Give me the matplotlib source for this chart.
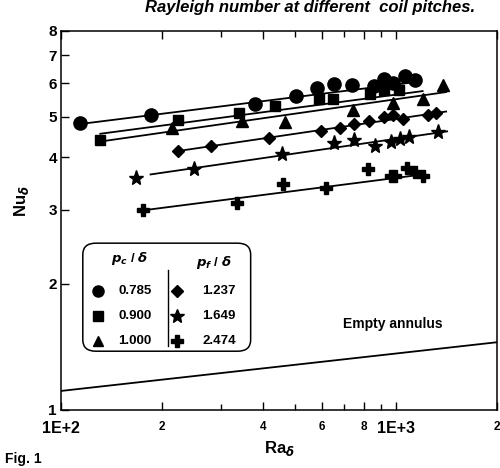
import numpy as np
import matplotlib
matplotlib.use("Agg")
import matplotlib.pyplot as plt
from matplotlib.patches import FancyBboxPatch

plt.rcParams["font.family"] = ["Liberation Sans", "DejaVu Sans"]
plt.rcParams["font.weight"] = "bold"

# data (Ra_delta, Nu_delta)
circle_x = [114, 185, 380, 503, 582, 651, 740, 859, 917, 982, 1062, 1137]
circle_y = [4.83, 5.04, 5.35, 5.59, 5.84, 5.97, 5.94, 5.91, 6.13, 6.01, 6.23, 6.12]

square_x = [131, 224, 340, 435, 588, 646, 833, 921, 1019]
square_y = [4.40, 4.92, 5.09, 5.29, 5.51, 5.50, 5.66, 5.77, 5.77]

tri_x = [215, 346, 465, 742, 976, 1202, 1377]
tri_y = [4.70, 4.88, 4.86, 5.19, 5.40, 5.51, 5.94]

diamond_x = [224, 281, 417, 595, 680, 751, 830, 918, 982, 1050, 1243, 1319]
diamond_y = [4.14, 4.25, 4.44, 4.63, 4.69, 4.81, 4.89, 4.99, 5.03, 4.94, 5.03, 5.10]

star_x = [167, 250, 455, 653, 751, 867, 964, 1024, 1094, 1337]
star_y = [3.56, 3.75, 4.08, 4.33, 4.39, 4.25, 4.36, 4.42, 4.48, 4.60]

plus_x = [176, 336, 460, 616, 823, 964, 990, 1077, 1139, 1203]
plus_y = [2.99, 3.11, 3.45, 3.37, 3.76, 3.61, 3.61, 3.77, 3.68, 3.60]

# correlation lines (end points)
fit_circle = ([114, 1160], [4.80, 6.05])
fit_square = ([131, 1200], [4.55, 5.75])
fit_tri = ([131, 1410], [4.36, 5.72])
fit_diamond = ([224, 1410], [4.14, 5.14])
fit_star = ([185, 1420], [3.64, 4.61])
fit_plus = ([176, 1140], [2.99, 3.62])
empty_x = [100, 2000]
empty_y = [1.11, 1.45]

pc_labels = ["0.785", "0.900", "1.000"]
pf_labels = ["1.237", "1.649", "2.474"]

fig = plt.figure(figsize=(5.0, 4.68), dpi=100)
ax = fig.add_axes([0.122, 0.124, 0.872, 0.81])
ax.set_xscale("log")
ax.set_yscale("log")
ax.set_xlim(100, 2000)
ax.set_ylim(1, 8)

for fx, fy in [fit_circle, fit_square, fit_tri, fit_diamond, fit_star, fit_plus]:
    ax.plot(fx, fy, color="black", lw=1.3)
ax.plot(empty_x, empty_y, color="black", lw=1.3)

ax.plot(circle_x, circle_y, "o", color="black", ms=9.5)
ax.plot(square_x, square_y, "s", color="black", ms=7.5)
ax.plot(tri_x, tri_y, "^", color="black", ms=8)
ax.plot(diamond_x, diamond_y, "D", color="black", ms=6.5)
ax.plot(star_x, star_y, "*", color="black", ms=11)
ax.plot(plus_x, plus_y, "P", color="black", ms=9)

# axes / ticks
for sp in ["left", "bottom", "top", "right"]:
    ax.spines[sp].set_linewidth(1.1)
ax.set_yticks([1, 2, 3, 4, 5, 6, 7, 8])
ax.set_yticklabels(["1", "2", "3", "4", "5", "6", "7", "8"], fontsize=11, fontweight="bold")
ax.yaxis.set_minor_locator(matplotlib.ticker.NullLocator())
xt = [100, 200, 400, 600, 800, 1000, 2000]
xl = ["1E+2", "2", "4", "6", "8", "1E+3", "2"]
ax.set_xticks(xt)
ax.set_xticklabels(xl, fontweight="bold")
for lab, s in zip(ax.get_xticklabels(), [11.5, 8.5, 8.5, 8.5, 8.5, 11.5, 8.5]):
    lab.set_fontsize(s)
ax.xaxis.set_minor_locator(matplotlib.ticker.FixedLocator([300, 500, 700, 900]))
ax.xaxis.set_minor_formatter(matplotlib.ticker.NullFormatter())
ax.tick_params(which="both", direction="in", top=True, right=False, width=1.0)
ax.tick_params(which="major", length=6)
ax.tick_params(which="minor", length=4)
ax.tick_params(axis="y", pad=3)
ax.tick_params(axis="x", pad=8)

ax.set_xlabel(r"Ra$_{\delta}$", fontsize=12, fontweight="bold", labelpad=2)
ax.set_ylabel(r"Nu$_{\delta}$", fontsize=12, fontweight="bold", labelpad=6)
ax.yaxis.set_label_coords(-0.068, 0.55)

# hand drawn style legend box
box = FancyBboxPatch((0.05, 0.155), 0.385, 0.285, boxstyle="round,pad=0,rounding_size=0.03",
                     transform=ax.transAxes, fill=False, lw=1.1, ec="black")
ax.add_patch(box)
ax.text(0.157, 0.40, r"$\mathbf{\it{p_c}}$ / $\delta$", transform=ax.transAxes,
        ha="center", va="center", fontsize=9.5, fontweight="bold")
ax.text(0.351, 0.388, r"$\mathbf{\it{p_f}}$ / $\delta$", transform=ax.transAxes,
        ha="center", va="center", fontsize=9.5, fontweight="bold")
ax.plot([0.246, 0.246], [0.17, 0.37], transform=ax.transAxes, color="black", lw=1.0)
rows = [0.315, 0.248, 0.181]
for r, m, ms, lab in zip(rows, ["o", "s", "^"], [8, 7, 7.5], pc_labels):
    ax.plot([0.084], [r], m, color="black", ms=ms, transform=ax.transAxes, clip_on=False)
    ax.text(0.17, r, lab, transform=ax.transAxes, ha="center", va="center",
            fontsize=9.5, fontweight="bold")
for r, m, ms, lab in zip(rows, ["D", "*", "P"], [6, 10, 8], pf_labels):
    ax.plot([0.267], [r], m, color="black", ms=ms, transform=ax.transAxes, clip_on=False)
    ax.text(0.362, r, lab, transform=ax.transAxes, ha="center", va="center",
            fontsize=9.5, fontweight="bold")

ax.text(0.76, 0.226, "Empty annulus", transform=ax.transAxes, ha="center", va="center",
        fontsize=10, fontweight="bold")

# caption pieces from the scan
fig.text(0.95, 0.974, "Rayleigh number at different  coil pitches.", ha="right",
         va="baseline", fontsize=12, fontweight="bold", style="italic")
fig.text(0.01, 0.004, "Fig. 1", ha="left", va="bottom", fontsize=10, fontweight="bold")

fig.savefig("out.png", dpi=100)
